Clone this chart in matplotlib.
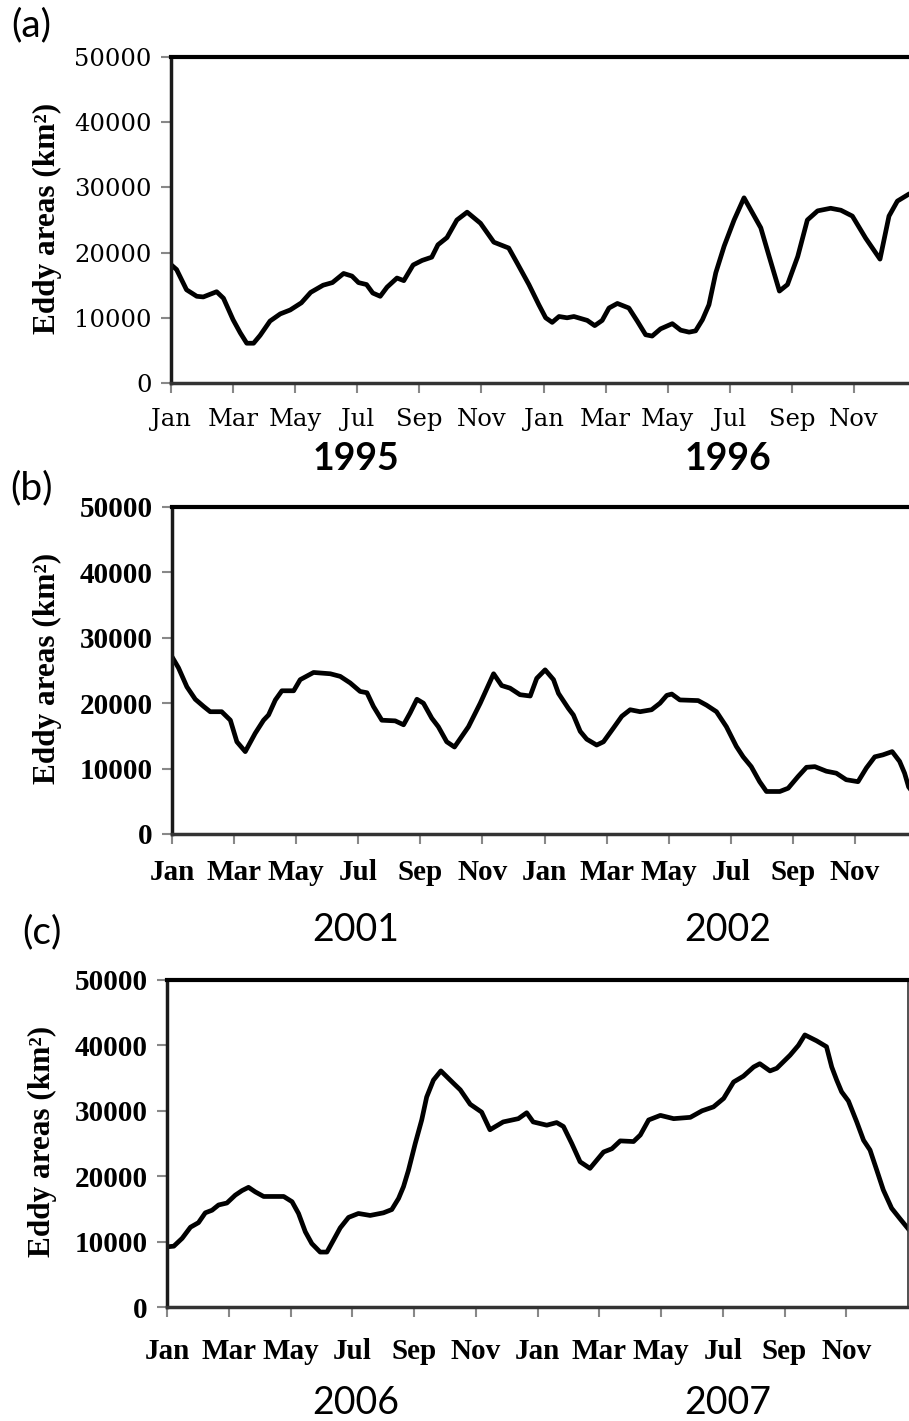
import matplotlib
matplotlib.use("Agg")
import matplotlib.pyplot as plt

# month index (0 = Jan of first year) and eddy area (km2)
a_month = [0, 0.18, 0.5, 0.83, 1.04, 1.47, 1.69, 2.0, 2.23, 2.44, 2.66, 2.87, 3.19, 3.52,
           3.84, 4.2, 4.5, 4.9, 5.2, 5.56, 5.83, 6.04, 6.3, 6.5, 6.74, 6.96, 7.28, 7.5,
           7.8, 8.09, 8.4, 8.6, 8.89, 9.21, 9.54, 9.97, 10.4, 10.88, 11.15, 11.53, 11.85,
           12.07, 12.28, 12.5, 12.76, 12.98, 13.41, 13.65, 13.89, 14.11, 14.38, 14.75,
           15.02, 15.29, 15.5, 15.77, 16.15, 16.42, 16.69, 16.9, 17.12, 17.33, 17.55,
           17.82, 18.14, 18.46, 18.73, 19.0, 19.27, 19.6, 19.86, 20.19, 20.5, 20.83,
           21.25, 21.58, 21.95, 22.38, 22.84, 23.13, 23.4, 23.78, 24.0]
a_area = [18150, 17400, 14300, 13300, 13200, 14000, 13000, 9700, 7700, 6100, 6100, 7300,
          9500, 10600, 11200, 12300, 13900, 15000, 15400, 16800, 16400, 15400, 15100,
          13800, 13300, 14700, 16100, 15700, 18100, 18800, 19300, 21200, 22300, 25000,
          26200, 24500, 21600, 20700, 18400, 15100, 12000, 10000, 9300, 10200, 10000,
          10200, 9600, 8800, 9600, 11500, 12200, 11500, 9500, 7400, 7200, 8300, 9100,
          8100, 7800, 8000, 9700, 12000, 16900, 21000, 25000, 28400, 26100, 23800, 19400,
          14100, 15100, 19400, 25000, 26400, 26800, 26500, 25600, 22200, 19000, 25600,
          27900, 29000, 29200]

b_month = [0, 0.21, 0.48, 0.75, 1.02, 1.23, 1.6, 1.88, 2.09, 2.36, 2.68, 2.95, 3.11, 3.33,
           3.54, 3.92, 4.13, 4.56, 5.1, 5.42, 5.74, 6.06, 6.28, 6.49, 6.76, 7.19, 7.46,
           7.67, 7.89, 8.1, 8.37, 8.58, 8.85, 9.1, 9.55, 9.93, 10.36, 10.62, 10.89, 11.21,
           11.54, 11.75, 12.02, 12.29, 12.45, 12.77, 12.93, 13.15, 13.36, 13.68, 13.9,
           14.22, 14.49, 14.76, 15.08, 15.45, 15.72, 15.94, 16.1, 16.36, 16.95, 17.22,
           17.54, 17.86, 18.18, 18.4, 18.66, 18.93, 19.15, 19.58, 19.85, 20.17, 20.44,
           20.71, 21.08, 21.4, 21.72, 22.1, 22.37, 22.64, 22.9, 23.2, 23.44, 23.6, 23.73,
           24.0]
b_area = [27100, 25400, 22500, 20600, 19500, 18700, 18700, 17400, 14100, 12600, 15400,
          17400, 18200, 20500, 21900, 21900, 23600, 24700, 24500, 24100, 23100, 21800,
          21600, 19500, 17400, 17300, 16700, 18500, 20600, 20000, 17700, 16400, 14100,
          13300, 16400, 20000, 24500, 22700, 22300, 21300, 21100, 23800, 25100, 23600,
          21500, 19200, 18200, 15700, 14500, 13600, 14100, 16200, 18000, 19000, 18700,
          19000, 20000, 21200, 21400, 20500, 20400, 19700, 18700, 16400, 13400, 11800,
          10300, 8000, 6500, 6500, 7000, 8800, 10200, 10300, 9600, 9300, 8300, 8000,
          10100, 11800, 12100, 12600, 11100, 9300, 7200, 5500]

c_month = [0, 0.22, 0.49, 0.76, 1.02, 1.24, 1.46, 1.67, 1.94, 2.21, 2.43, 2.64, 2.86,
           3.13, 3.45, 3.78, 4.05, 4.26, 4.48, 4.69, 4.96, 5.18, 5.39, 5.61, 5.88, 6.2,
           6.58, 7.01, 7.28, 7.5, 7.66, 7.82, 8.04, 8.25, 8.41, 8.63, 8.87, 9.28, 9.5,
           9.82, 10.19, 10.46, 10.89, 11.38, 11.65, 11.86, 12.3, 12.62, 12.84, 13.11,
           13.38, 13.7, 14.14, 14.41, 14.68, 15.11, 15.33, 15.6, 15.98, 16.41, 16.95,
           17.33, 17.7, 18.03, 18.35, 18.67, 19.0, 19.2, 19.53, 19.75, 20.18, 20.45,
           20.66, 21.04, 21.36, 21.53, 21.69, 21.85, 22.07, 22.34, 22.56, 22.77, 22.99,
           23.2, 23.47, 23.74, 24.0]
c_area = [9200, 9300, 10500, 12200, 12900, 14400, 14800, 15600, 15900, 17100, 17800,
          18300, 17600, 16900, 16900, 16900, 16100, 14300, 11500, 9700, 8400, 8400,
          10200, 12100, 13700, 14300, 14000, 14400, 14900, 16600, 18400, 20900, 25000,
          28600, 32100, 34700, 36100, 34200, 33200, 31000, 29800, 27100, 28300, 28800,
          29700, 28300, 27800, 28200, 27600, 25000, 22200, 21200, 23700, 24200, 25400,
          25300, 26300, 28600, 29300, 28800, 29000, 30000, 30600, 31900, 34400, 35300,
          36700, 37200, 36100, 36500, 38500, 40000, 41600, 40700, 39800, 36700, 34700,
          32900, 31500, 28300, 25500, 24000, 20900, 17900, 15100, 13500, 12000]

month_labels = ['Jan', 'Mar', 'May', 'Jul', 'Sep', 'Nov'] * 2
y_ticks = [0, 10000, 20000, 30000, 40000, 50000]

W, H = 909, 1421
fig = plt.figure(figsize=(W / 100, H / 100), dpi=100)


def fx(px):
    return px / W


def fy(py):
    return 1 - py / H


panels = [
    # month, area, (left, right, top, bottom) px, years, year y px, label, label pos, bold ticks
    (a_month, a_area, (171, 916, 57, 383), ['1995', '1996'], 459, '(a)', (31, 25), False),
    (b_month, b_area, (172, 917, 507, 834), ['2001', '2002'], 930, '(b)', (32, 488), True),
    (c_month, c_area, (167, 908, 980, 1307), ['2006', '2007'], 1403, '(c)', (42, 932), True),
]

for i, (mon, area, box, years, yr_y, lab, lab_pos, bold) in enumerate(panels):
    l, r, t, b = box
    ax = fig.add_axes([fx(l), fy(b), fx(r - l), (b - t) / H])
    ax.plot(mon, area, color='black', lw=3.4, solid_joinstyle='round')
    ax.set_xlim(0, 24)
    ax.set_ylim(0, 50000)
    ax.set_xticks(range(0, 24, 2))
    ax.set_yticks(y_ticks)

    if bold:
        tfont = dict(family='Liberation Serif', weight='bold', size=21)
    else:
        tfont = dict(family='DejaVu Serif', weight='normal', size=17.5)
    ax.set_xticklabels(month_labels, **tfont)
    ax.set_yticklabels([str(v) for v in y_ticks], **tfont)
    ax.tick_params(axis='both', direction='out', length=7, width=1.5, color='#888888')
    ax.tick_params(axis='x', pad=11 if i < 2 else 15)
    ax.tick_params(axis='y', pad=7)

    ax.spines['top'].set_linewidth(3)
    ax.spines['top'].set_color('black')
    ax.spines['left'].set_linewidth(2.5)
    ax.spines['left'].set_color('#1a1a1a')
    ax.spines['bottom'].set_linewidth(2.5)
    ax.spines['bottom'].set_color('#333333')
    ax.spines['right'].set_linewidth(1.2)
    ax.spines['right'].set_color('#333333')

    ylab_x = 47 if i < 2 else 42
    fig.text(fx(ylab_x), fy((t + b) / 2 - 2), 'Eddy areas (km²)', rotation=90,
             ha='center', va='center', family='Liberation Serif', weight='bold', size=22.5)

    yr_w = 'bold' if i == 0 else 'normal'
    fig.text(fx(356), fy(yr_y), years[0], ha='center', va='center',
             family='Lato', weight=yr_w, size=27)
    fig.text(fx(728), fy(yr_y), years[1], ha='center', va='center',
             family='Lato', weight=yr_w, size=27)
    fig.text(fx(lab_pos[0]), fy(lab_pos[1]), lab, ha='center', va='center',
             family='Lato', size=28)

fig.savefig('out.png', dpi=100)
